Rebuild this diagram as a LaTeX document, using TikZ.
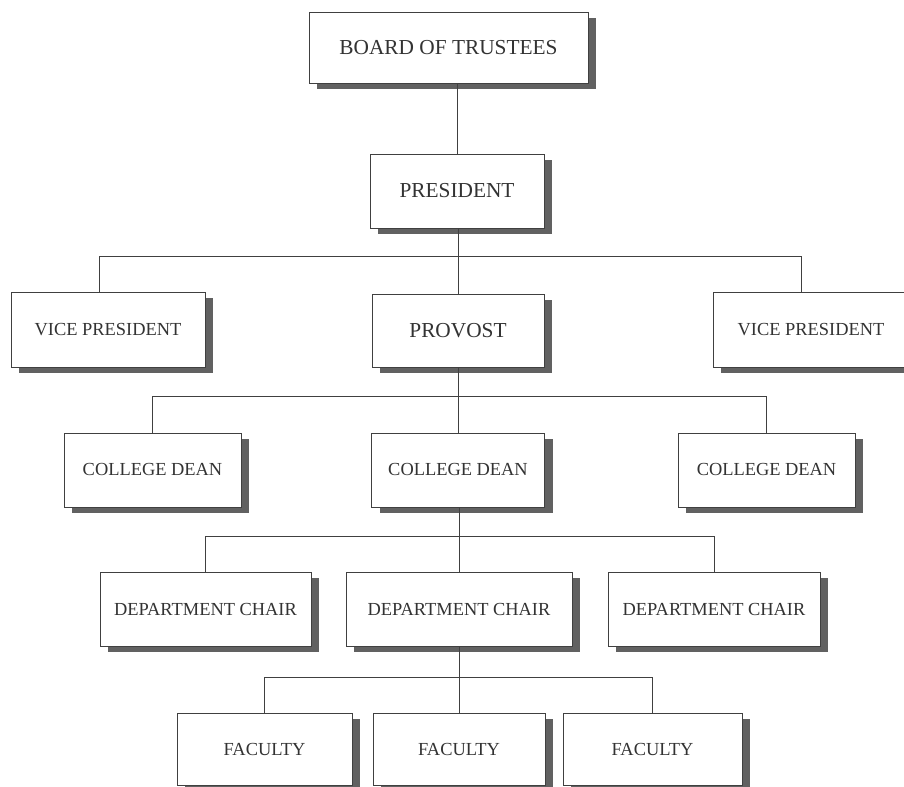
\documentclass[tikz,border=0pt]{standalone}
\usepackage{fontspec}
\setmainfont{Liberation Serif}
\usepackage{tikz}
\usetikzlibrary{shadows}

\tikzset{
  unit/.style={draw=black!75, line width=0.6pt, fill=white, inner sep=0pt,
    text=black!80, font=\fontsize{13.8}{16}\selectfont,
    general shadow={fill=black!62, shadow xshift=6pt, shadow yshift=-4.5pt}},
  head/.style={unit, font=\fontsize{16}{19}\selectfont},
  link/.style={draw=black!75, line width=0.6pt}
}

\begin{document}
\begin{tikzpicture}[x=0.75pt, y=-0.75pt]
	\useasboundingbox (0,0) rectangle (904,787);

	\node[head, minimum width=209.25pt, minimum height=53.25pt] (bot) at (448.5,47.5) {BOARD OF TRUSTEES};
	\node[head, minimum width=130.5pt, minimum height=55.5pt] (pres) at (457,191) {PRESIDENT};
	\node[unit, minimum width=145.5pt, minimum height=56.25pt] (vp1) at (108,329.5) {VICE PRESIDENT};
	\node[head, minimum width=129pt, minimum height=54.75pt] (prov) at (458,330.5) {PROVOST};
	\node[unit, minimum width=147pt, minimum height=56.25pt] (vp2) at (811,329.5) {VICE PRESIDENT};

	\node[unit, minimum width=132.75pt, minimum height=55.5pt] (dean1) at (152.5,470) {COLLEGE DEAN};
	\node[unit, minimum width=129.75pt, minimum height=55.5pt] (dean2) at (458,470) {COLLEGE DEAN};
	\node[unit, minimum width=132.75pt, minimum height=55.5pt] (dean3) at (766.5,470) {COLLEGE DEAN};

	\node[unit, minimum width=158.25pt, minimum height=55.5pt] (chair1) at (205.5,609) {DEPARTMENT CHAIR};
	\node[unit, minimum width=169.5pt, minimum height=55.5pt] (chair2) at (459,609) {DEPARTMENT CHAIR};
	\node[unit, minimum width=159pt, minimum height=55.5pt] (chair3) at (714,609) {DEPARTMENT CHAIR};

	\node[unit, minimum width=131.25pt, minimum height=54pt] (fac1) at (264.5,749) {FACULTY};
	\node[unit, minimum width=129pt, minimum height=54pt] (fac2) at (459,749) {FACULTY};
	\node[unit, minimum width=134.25pt, minimum height=54pt] (fac3) at (652.5,749) {FACULTY};

	\coordinate (bus1) at (0,256);
	\coordinate (bus2) at (0,396);
	\coordinate (bus3) at (0,536);
	\coordinate (bus4) at (0,677);

	\path[link]
		(pres.north) edge (pres.north |- bot.south)
		(prov.north) edge (prov.north |- pres.south)
		(prov.south) edge (dean2.north)
		(chair2.north) edge (chair2.north |- dean2.south)
		(chair2.south) edge (fac2.north);

	\draw[link] ([xshift=-6.75pt]vp1.north) |- ([xshift=-7.5pt]vp2.north |- bus1) -- ([xshift=-7.5pt]vp2.north);
	\draw[link] (dean1.north) |- (dean3.north |- bus2) -- (dean3.north);
	\draw[link] (chair1.north) |- (chair3.north |- bus3) -- (chair3.north);
	\draw[link] (fac1.north) |- (fac3.north |- bus4) -- (fac3.north);
\end{tikzpicture}
\end{document}
